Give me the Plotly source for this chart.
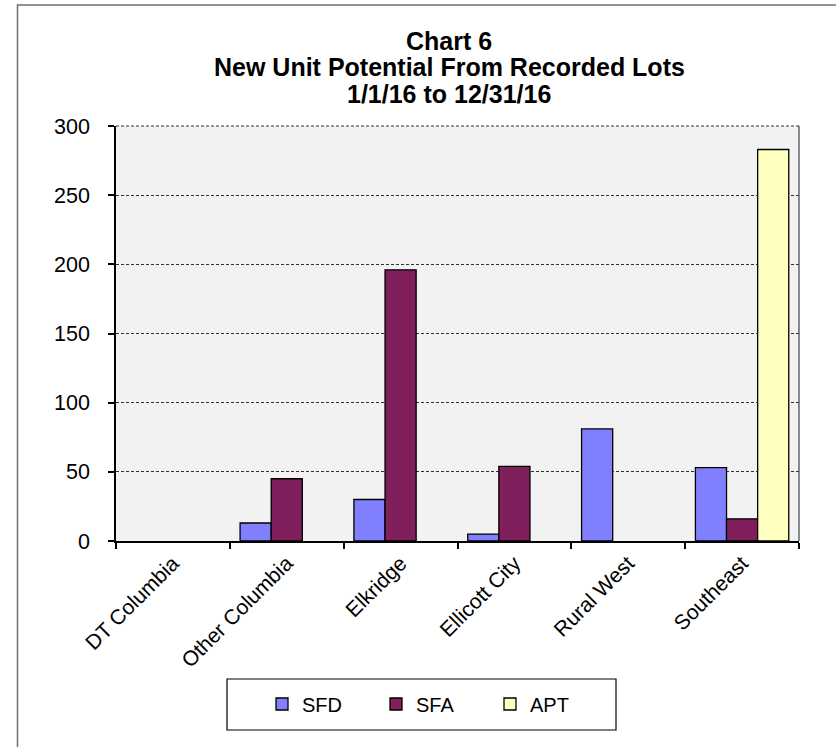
import plotly.graph_objects as go

categories = ["DT Columbia", "Other Columbia", "Elkridge", "Ellicott City", "Rural West", "Southeast"]
sfd = [0, 13, 30, 5, 81, 53]
sfa = [0, 45, 196, 54, 0, 16]
apt = [0, 0, 0, 0, 0, 283]
series_names = ["SFD", "SFA", "APT"]
series_colors = ["#8080FF", "#7F1F5C", "#FFFFC0"]
title_lines = ["Chart 6", "New Unit Potential From Recorded Lots", "1/1/16 to 12/31/16"]
y_ticks = [0, 50, 100, 150, 200, 250, 300]

W, H = 836, 747
L, R, T, B = 116, 37, 126, 206
PW, PH = W - L - R, H - T - B

def px(x):
    return (x - L) / PW

def py(y):
    return (H - B - y) / PH

FONT = "Arial, 'Liberation Sans', sans-serif"

fig = go.Figure()
for name, vals, col in zip(series_names, [sfd, sfa, apt], series_colors):
    # zero values are left undrawn (no outline along the axis), as in the original
    fig.add_trace(go.Bar(
        name=name, x=categories, y=[v if v != 0 else None for v in vals],
        marker=dict(color=col, line=dict(color="#000000", width=1.3)),
    ))

annotations = []
for txt, yy in zip(title_lines, [41, 67, 94]):
    annotations.append(dict(
        text="<b>" + txt + "</b>", x=px(449), y=py(yy), xref="paper", yref="paper",
        xanchor="center", yanchor="middle", showarrow=False,
        font=dict(family=FONT, size=25, color="#000000"),
    ))

shapes = [
    dict(type="rect", xref="paper", yref="paper", x0=px(17.5), x1=px(845), y0=py(5), y1=py(760),
         line=dict(color="#707070", width=1.5), fillcolor="rgba(0,0,0,0)", layer="above"),
    dict(type="line", xref="paper", yref="paper", x0=1, x1=1, y0=0, y1=1,
         line=dict(color="#404040", width=1.2)),
    dict(type="line", xref="paper", yref="paper", x0=0, x1=1, y0=1, y1=1,
         line=dict(color="#303030", width=1, dash="3px,2px")),
    dict(type="rect", xref="paper", yref="paper", x0=px(227), x1=px(616), y0=py(679), y1=py(730),
         line=dict(color="#000000", width=1.2), fillcolor="#FFFFFF", layer="below"),
]

fig.update_layout(
    width=W, height=H,
    margin=dict(l=L, r=R, t=T, b=B),
    paper_bgcolor="#FFFFFF",
    plot_bgcolor="#F2F2F2",
    barmode="group",
    bargap=0.18,
    bargroupgap=0,
    font=dict(family=FONT, color="#000000", size=20),
    showlegend=True,
    legend=dict(
        orientation="h", x=px(262), y=py(704), xanchor="left", yanchor="middle",
        bgcolor="rgba(0,0,0,0)", borderwidth=0,
        font=dict(family=FONT, size=20, color="#000000"),
        entrywidth=69, entrywidthmode="pixels", itemwidth=30,
        traceorder="normal",
    ),
    annotations=annotations,
    shapes=shapes,
)

fig.update_xaxes(
    type="category", tickson="boundaries", ticks="outside", ticklen=6, tickwidth=1.5,
    tickcolor="#000000", showline=True, linecolor="#000000", linewidth=1.5,
    tickangle=-45, tickfont=dict(family=FONT, size=21, color="#000000"),
    showgrid=False, zeroline=False,
)
fig.update_yaxes(
    range=[0, 300], tickvals=y_ticks, ticks="outside", ticklen=6, tickwidth=1.5,
    tickcolor="#000000", showline=True, linecolor="#000000", linewidth=1.5,
    showgrid=True, gridcolor="#303030", gridwidth=1, griddash="3px,2px",
    zeroline=False, tickfont=dict(family=FONT, size=21.5, color="#000000"),
    ticklabelstandoff=14,
)

fig.write_html("out.html", config={"displayModeBar": False},
               post_script="document.body.style.margin='0';")
